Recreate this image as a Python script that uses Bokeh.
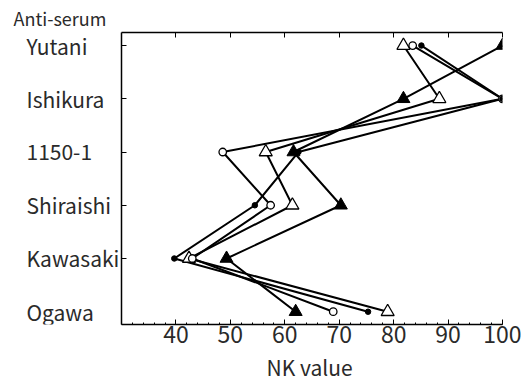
from bokeh.plotting import figure
from bokeh.layouts import row
from bokeh.models import LinearAxis, Range1d, FixedTicker
from bokeh.core.properties import value
from bokeh.embed import file_html
from bokeh.resources import INLINE

# Data
categories = ["Yutani", "Ishikura", "1150-1", "Shiraishi", "Kawasaki", "Ogawa"]
cat_pos = [5, 4, 3, 2, 1, 0]
open_circle = [83.5, 100.0, 48.6, 57.4, 43.0, 68.9]
filled_circle = [85.1, 100.0, 62.5, 54.5, 39.7, 75.3]
open_triangle = [81.8, 88.4, 56.5, 61.4, 42.4, 78.9]
filled_triangle = [100.0, 81.8, 61.6, 70.3, 49.3, 62.0]
x_ticks = [40, 50, 60, 70, 80, 90, 100]

FONT = "Noto Sans CJK JP"
TXT = "#2a2a2a"
W, H = 528, 384
LEFT_W = 120
TOP, BOTTOM = 30, 54

y_rng = Range1d(-0.24, 5.245)

# ---------------- main plot ----------------
p = figure(width=W - LEFT_W, height=H, output_backend="svg", toolbar_location=None,
           x_range=Range1d(30, 100), y_range=y_rng,
           min_border_left=1, min_border_right=26, min_border_top=TOP,
           min_border_bottom=BOTTOM, x_axis_location=None, y_axis_location=None)
p.outline_line_color = None
p.grid.visible = False

for ser in [open_circle, filled_circle, open_triangle, filled_triangle]:
    p.line(ser, cat_pos, line_color="black", line_width=2)

p.scatter(open_triangle, cat_pos, marker="triangle", size=13, fill_color="white",
          line_color="black", line_width=1.3)
p.scatter(filled_triangle, cat_pos, marker="triangle", size=13, fill_color="black",
          line_color="black", line_width=1)
p.scatter(open_circle, cat_pos, marker="circle", size=7.5, fill_color="white",
          line_color="black", line_width=1.3)
p.scatter(filled_circle, cat_pos, marker="circle", size=5.5, fill_color="black",
          line_color="black", line_width=1)

bottom = LinearAxis(ticker=FixedTicker(ticks=x_ticks, minor_ticks=list(range(30, 101, 2))))
bottom.axis_line_width = 1.5
bottom.major_tick_in = 5
bottom.major_tick_out = 0
bottom.minor_tick_in = 2
bottom.minor_tick_out = 0
bottom.major_label_standoff = 1
bottom.major_label_text_font = FONT
bottom.major_label_text_font_size = "23px"
bottom.major_label_text_color = TXT
bottom.axis_label = "NK  value"
bottom.axis_label_standoff = 6
bottom.axis_label_text_font = FONT
bottom.axis_label_text_font_size = "21px"
bottom.axis_label_text_font_style = "normal"
bottom.axis_label_text_color = TXT
p.add_layout(bottom, "below")

top = LinearAxis(ticker=FixedTicker(ticks=x_ticks, minor_ticks=[]))
top.axis_line_width = 1.5
top.major_tick_in = 5
top.major_tick_out = 0
top.major_label_standoff = 0
top.major_label_text_font_size = "0px"
top.major_label_text_color = None
p.add_layout(top, "above")

left = LinearAxis(ticker=FixedTicker(ticks=[1, 2, 3, 4, 5], minor_ticks=[]))
left.axis_line_width = 1.5
left.major_tick_in = 5
left.major_tick_out = 0
left.major_label_standoff = 0
left.major_label_text_font_size = "0px"
left.major_label_text_color = None
p.add_layout(left, "left")

# ---------------- left label strip (frame aligned with the main plot) ----------------
q = figure(width=LEFT_W, height=H, output_backend="svg", toolbar_location=None,
           x_range=Range1d(0, LEFT_W), y_range=y_rng,
           min_border_left=0, min_border_right=0, min_border_top=TOP,
           min_border_bottom=BOTTOM, x_axis_location=None, y_axis_location=None,
           title="Anti-serum")
q.outline_line_color = None
q.grid.visible = False
q.title.align = "left"
q.title.offset = 13
q.title.standoff = 3.8
q.title.text_font = FONT
q.title.text_font_size = "18px"
q.title.text_font_style = "normal"
q.title.text_color = TXT
q.text(x=[26] * len(categories), y=cat_pos, text=categories,
       text_font=value(FONT), text_font_size="21px", text_color=TXT,
       text_baseline="middle", text_align="left")

layout = row(q, p, spacing=0)
open("out.html", "w").write(file_html(layout, INLINE))
